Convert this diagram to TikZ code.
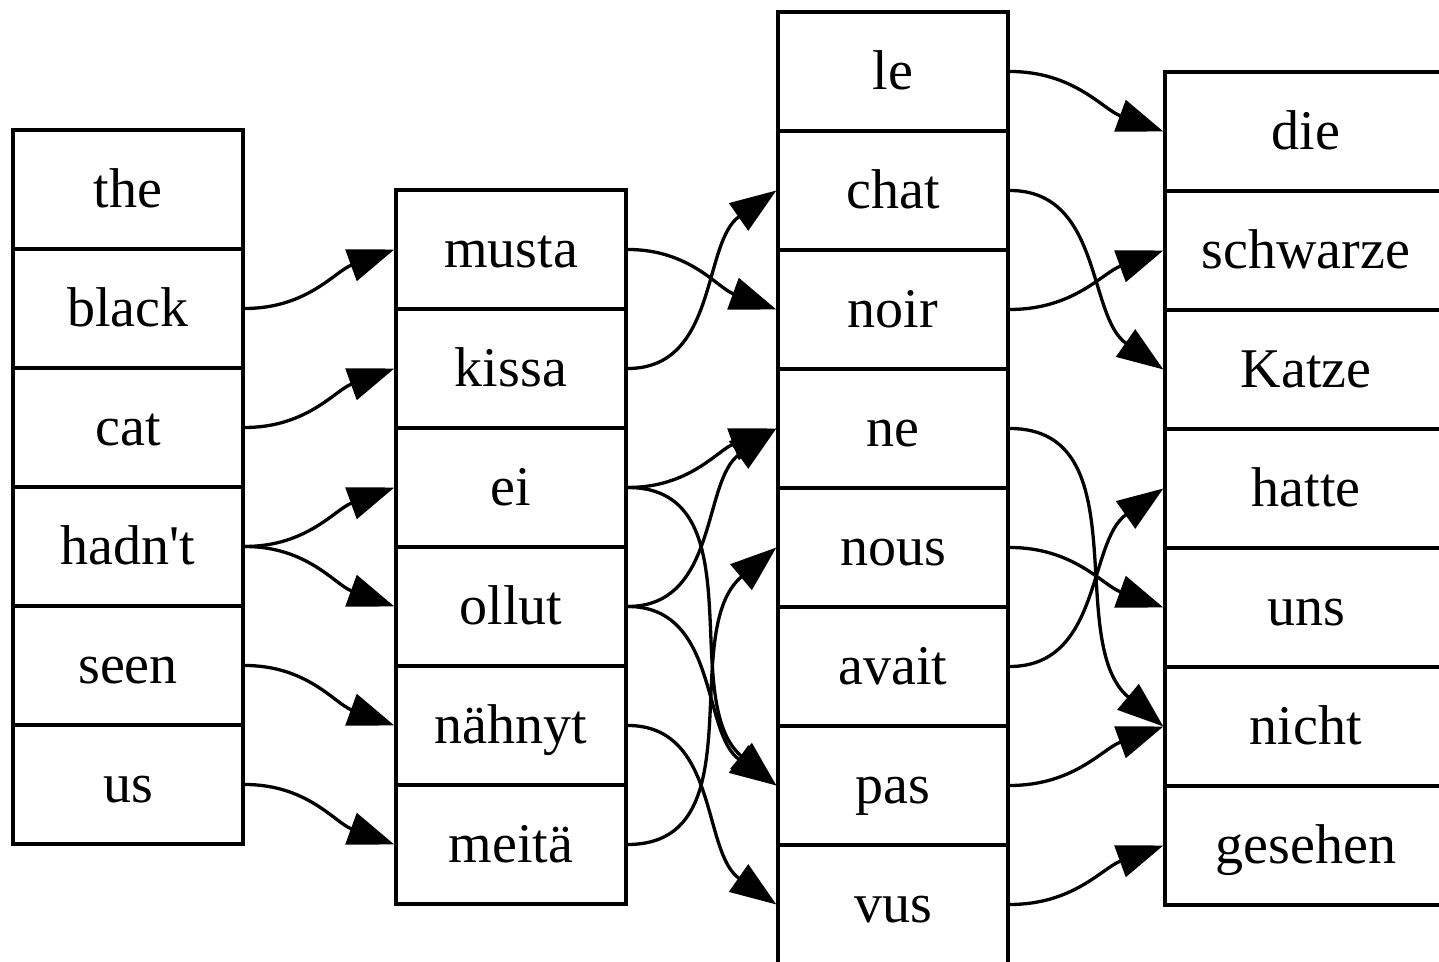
\documentclass[tikz,border=0pt]{standalone}
\usepackage{fontspec}
\setmainfont{Liberation Serif}[Ligatures=TeXOff]
\usetikzlibrary{arrows.meta}
\tikzset{
  cell/.style={draw, line width=1pt, inner sep=0pt, minimum width=69.76pt, minimum height=36.09pt,
    text height=12pt, text depth=1pt, font=\fontsize{17}{20}\selectfont},
  widecell/.style={cell, minimum width=85.53pt},
  arr/.style={line width=1pt, -{Triangle[length=14pt,width=10pt]}},
  ed/.style={out=0, in=#1}
}
\begin{document}
\begin{tikzpicture}[x=0.3033pt, y=0.3033pt]
\useasboundingbox (0,0) rectangle (1439,-962);
\fill[white] (0,0) rectangle (1439,-962);
\clip (0,0) rectangle (1439,-962);
% column 1
\node[cell] (the)   at (128,-189.5) {the};
\node[cell] (black) at (128,-308.5) {black};
\node[cell] (cat)   at (128,-427.5) {cat};
\node[cell] (hadnt) at (128,-546.5) {hadn't};
\node[cell] (seen)  at (128,-665.5) {seen};
\node[cell] (us)    at (128,-784.5) {us};
% column 2
\node[cell] (musta)  at (511,-249.5) {musta};
\node[cell] (kissa)  at (511,-368.5) {kissa};
\node[cell] (ei)     at (511,-487.5) {ei};
\node[cell] (ollut)  at (511,-606.5) {ollut};
\node[cell] (nahnyt) at (511,-725.5) {nähnyt};
\node[cell] (meita)  at (511,-844.5) {meitä};
% column 3
\node[cell] (le)    at (893,-71.5)  {le};
\node[cell] (chat)  at (893,-190.5) {chat};
\node[cell] (noir)  at (893,-309.5) {noir};
\node[cell] (ne)    at (893,-428.5) {ne};
\node[cell] (nous)  at (893,-547.5) {nous};
\node[cell] (avait) at (893,-666.5) {avait};
\node[cell] (pas)   at (893,-785.5) {pas};
\node[cell] (vus)   at (893,-904.5) {vus};
% column 4
\node[widecell] (die)      at (1306,-131.5) {die};
\node[widecell] (schwarze) at (1306,-250.5) {schwarze};
\node[widecell] (Katze)    at (1306,-369.5) {Katze};
\node[widecell] (hatte)    at (1306,-488.5) {hatte};
\node[widecell] (uns)      at (1306,-607.5) {uns};
\node[widecell] (nicht)    at (1306,-726.5) {nicht};
\node[widecell] (gesehen)  at (1306,-845.5) {gesehen};
% edges column 1 -> 2
\draw[arr] (black.east) to[ed=200] (musta.west);
\draw[arr] (cat.east)   to[ed=200] (kissa.west);
\draw[arr] (hadnt.east) to[ed=200] (ei.west);
\draw[arr] (hadnt.east) to[ed=160] (ollut.west);
\draw[arr] (seen.east)  to[ed=160] (nahnyt.west);
\draw[arr] (us.east)    to[ed=160] (meita.west);
% edges column 2 -> 3
\draw[arr] (musta.east)  to[ed=160] (noir.west);
\draw[arr] (kissa.east)  to[ed=215] (chat.west);
\draw[arr] (ei.east)     to[ed=200] (ne.west);
\draw[arr] (ei.east)     to[ed=140] (pas.west);
\draw[arr] (ollut.east)  to[ed=215] (ne.west);
\draw[arr] (ollut.east)  to[ed=145] (pas.west);
\draw[arr] (nahnyt.east) to[ed=145] (vus.west);
\draw[arr] (meita.east)  to[ed=220] (nous.west);
% edges column 3 -> 4
\draw[arr] (le.east)    to[ed=160] (die.west);
\draw[arr] (chat.east)  to[ed=145] (Katze.west);
\draw[arr] (noir.east)  to[ed=200] (schwarze.west);
\draw[arr] (ne.east)    to[ed=140] (nicht.west);
\draw[arr] (nous.east)  to[ed=160] (uns.west);
\draw[arr] (avait.east) to[ed=215] (hatte.west);
\draw[arr] (pas.east)   to[ed=200] (nicht.west);
\draw[arr] (vus.east)   to[ed=200] (gesehen.west);
\end{tikzpicture}
\end{document}
